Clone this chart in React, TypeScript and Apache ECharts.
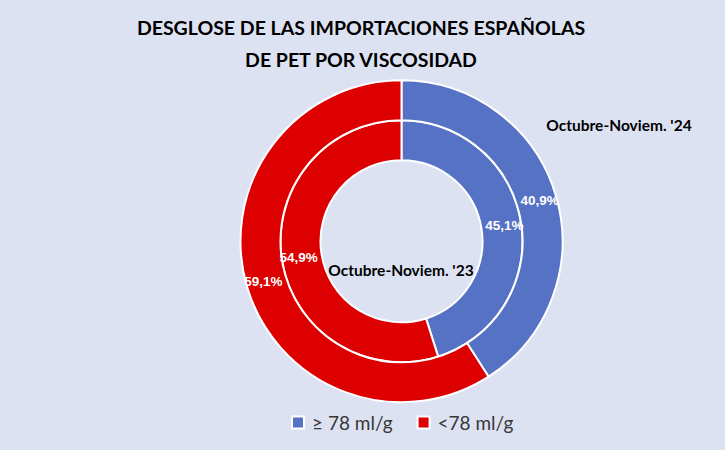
import React, { useEffect, useRef } from "react";
import * as echarts from "echarts";

const categories = ["≥ 78 ml/g", "<78 ml/g"];
const values2023 = [45.1, 54.9];
const values2024 = [40.9, 59.1];
const colors = ["#5572c4", "#dc0000"];
const titleLines = ["DESGLOSE DE LAS IMPORTACIONES ESPAÑOLAS", "DE PET POR VISCOSIDAD"];
const innerName = "Octubre-Noviem. '23";
const outerName = "Octubre-Noviem. '24";

const fmt = (v: number) => v.toFixed(1).replace(".", ",") + "%";

export default function App() {
  const ref = useRef<HTMLDivElement>(null);
  useEffect(() => {
    if (!ref.current) return;
    const chart = echarts.init(ref.current, null, { renderer: "svg" });
    const labelStyle = {
      show: true,
      position: "inside" as const,
      color: "#ffffff",
      fontSize: 13.5,
      fontWeight: "bold" as const,
      fontFamily: "'Liberation Sans Narrow', 'Arial Narrow', 'Liberation Sans', sans-serif",
      formatter: (p: any) => fmt(p.value),
    };
    chart.setOption({
      animation: false,
      backgroundColor: "#dde2f2",
      color: colors,
      legend: {
        data: categories,
        left: 291,
        top: 413,
        padding: 0,
        icon: "rect",
        itemWidth: 12,
        itemHeight: 12,
        itemGap: 24,
        textStyle: {
          fontSize: 19,
          color: "#383838",
          fontFamily: "Lato, 'Open Sans', sans-serif",
          padding: [0, 0, 0, 3],
        },
      },
      graphic: [
        {
          type: "text",
          x: 361,
          y: 11,
          style: {
            text: titleLines.join("\n"),
            fill: "#000000",
            fontSize: 19.5,
            fontWeight: "bold",
            fontFamily: "Lato, 'Open Sans', sans-serif",
            textAlign: "center",
            lineHeight: 32,
          },
        },
        {
          type: "text",
          x: 401,
          y: 270,
          style: {
            text: innerName,
            fill: "#000000",
            fontSize: 15.5,
            fontWeight: "bold",
            fontFamily: "Lato, 'Open Sans', sans-serif",
            textAlign: "center",
            textVerticalAlign: "middle",
          },
        },
        {
          type: "text",
          x: 619,
          y: 125,
          style: {
            text: outerName,
            fill: "#000000",
            fontSize: 15.5,
            fontWeight: "bold",
            fontFamily: "Lato, 'Open Sans', sans-serif",
            textAlign: "center",
            textVerticalAlign: "middle",
          },
        },
      ],
      series: [
        {
          name: innerName,
          type: "pie",
          center: [401.5, 241.3],
          radius: [81, 121],
          startAngle: 90,
          clockwise: true,
          itemStyle: { borderColor: "#ffffff", borderWidth: 2 },
          label: labelStyle,
          labelLine: { show: false },
          emphasis: { disabled: true },
          data: categories.map((c, i) => ({ name: c, value: values2023[i] })),
        },
        {
          name: outerName,
          type: "pie",
          center: [401.5, 241.3],
          radius: [121, 161],
          startAngle: 90,
          clockwise: true,
          itemStyle: { borderColor: "#ffffff", borderWidth: 2 },
          label: labelStyle,
          labelLine: { show: false },
          emphasis: { disabled: true },
          data: categories.map((c, i) => ({ name: c, value: values2024[i] })),
        },
      ],
    });
    return () => chart.dispose();
  }, []);
  return (
    <div
      ref={ref}
      style={{ position: "fixed", left: 0, top: 0, width: 725, height: 450 }}
    />
  );
}
